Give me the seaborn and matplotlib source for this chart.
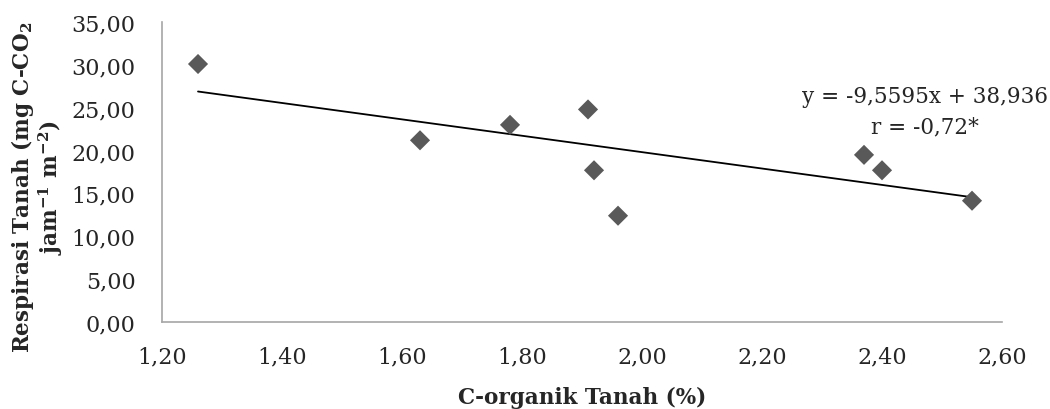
import numpy as np
import matplotlib
matplotlib.use("Agg")
import matplotlib.pyplot as plt
import seaborn as sns

# data
c_organik = [1.26, 1.63, 1.78, 1.91, 1.92, 1.96, 2.37, 2.40, 2.55]
respirasi = [30.1, 21.2, 23.0, 24.8, 17.7, 12.4, 19.5, 17.7, 14.15]
slope, intercept = -9.5595, 38.936
x_ticks = [1.20, 1.40, 1.60, 1.80, 2.00, 2.20, 2.40, 2.60]
y_ticks = [0, 5, 10, 15, 20, 25, 30, 35]

sns.set_style("white")
plt.rcParams['font.family'] = ['DejaVu Serif']
plt.rcParams['mathtext.fontset'] = 'dejavuserif'

fig = plt.figure(figsize=(10.5, 4.1), dpi=100)
ax = fig.add_axes([0.1543, 0.2122, 0.80, 0.7317])

sns.scatterplot(x=c_organik, y=respirasi, marker='D', s=105, color='#595959',
                edgecolor='none', ax=ax, zorder=3)

# trend line over the data range
xs = np.array([min(c_organik), max(c_organik)])
ax.plot(xs, slope * xs + intercept, color='black', linewidth=1.3, zorder=2)

ax.set_xlim(1.20, 2.60)
ax.set_ylim(0, 35)
ax.set_xticks(x_ticks)
ax.set_yticks(y_ticks)
ax.set_xticklabels([f"{v:.2f}".replace('.', ',') for v in x_ticks], fontsize=16)
ax.set_yticklabels([f"{v:.2f}".replace('.', ',') for v in y_ticks], fontsize=16)
ax.tick_params(axis='both', length=0)
ax.tick_params(axis='y', pad=19)
ax.tick_params(axis='x', pad=17)

for side in ['top', 'right']:
    ax.spines[side].set_visible(False)
for side in ['left', 'bottom']:
    ax.spines[side].set_color('#a6a6a6')
    ax.spines[side].set_linewidth(1.2)

ax.set_xlabel('C-organik Tanah (%)', fontsize=15.5, fontweight='bold', labelpad=13)
ax.set_ylabel('Respirasi Tanah (mg C-CO$_\\mathbf{2}$\njam$^{\\mathbf{-1}}$ m$^{\\mathbf{-2}}$)',
              fontsize=15.5, fontweight='bold', linespacing=1.0)
ax.yaxis.set_label_coords(-0.1155, 0.452)

ax.text(2.471, 26.4, 'y = -9,5595x + 38,936', fontsize=15.5, ha='center', va='center')
ax.text(2.471, 22.8, 'r = -0,72*', fontsize=15.5, ha='center', va='center')

fig.savefig('out.png', dpi=100)
